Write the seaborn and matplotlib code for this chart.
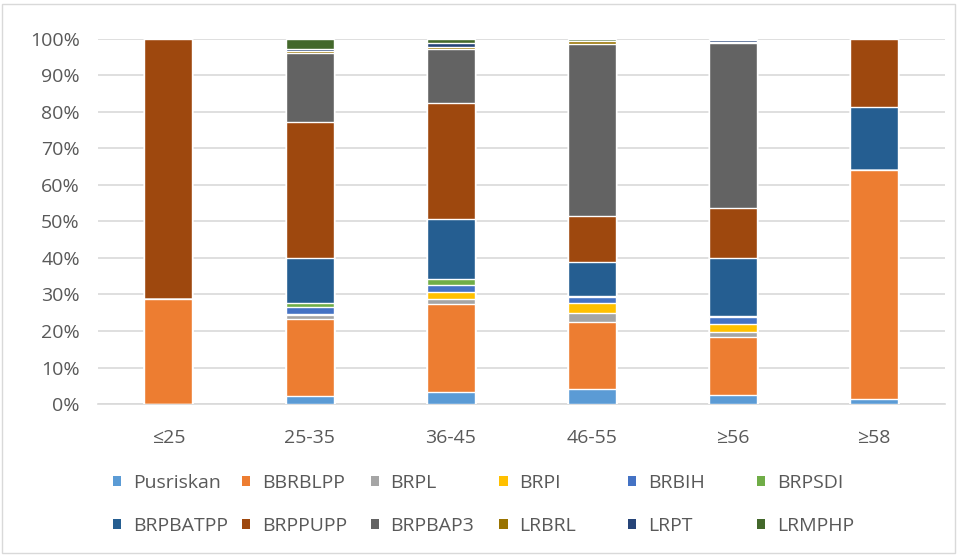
import numpy as np
import pandas as pd
import seaborn as sns
import matplotlib.pyplot as plt
from matplotlib.patches import Rectangle, Patch

# Age groups and share (%) of each unit in each group
groups = ['≤25', '25-35', '36-45', '46-55', '≥56', '≥58']
units = ['Pusriskan', 'BBRBLPP', 'BRPL', 'BRPI', 'BRBIH', 'BRPSDI',
         'BRPBATPP', 'BRPPUPP', 'BRPBAP3', 'LRBRL', 'LRPT', 'LRMPHP']

pusriskan = [0.0, 2.1, 3.4, 4.1, 2.5, 1.4]
bbrblpp = [28.7, 21.1, 23.9, 18.5, 15.8, 62.8]
brpl = [0.0, 1.1, 1.3, 2.3, 1.6, 0.0]
brpi = [0.0, 0.3, 2.0, 2.7, 2.0, 0.0]
brbih = [0.0, 2.0, 1.9, 1.7, 2.0, 0.0]
brpsdi = [0.0, 1.0, 1.7, 0.4, 0.2, 0.0]
brpbatpp = [0.0, 12.5, 16.4, 9.1, 16.1, 17.1]
brppupp = [71.3, 37.3, 31.7, 12.7, 13.7, 18.7]
brpbap3 = [0.0, 18.7, 14.7, 47.1, 45.2, 0.0]
lrbrl = [0.0, 0.7, 0.6, 0.7, 0.1, 0.0]
lrpt = [0.0, 0.6, 1.1, 0.2, 0.7, 0.0]
lrmphp = [0.0, 2.7, 1.2, 0.5, 0.3, 0.0]

colors = ['#5B9BD5', '#ED7D31', '#A5A5A5', '#FFC000', '#4472C4', '#70AD47',
          '#255E91', '#9E480E', '#636363', '#997300', '#264478', '#43682B']

df = pd.DataFrame([pusriskan, bbrblpp, brpl, brpi, brbih, brpsdi, brpbatpp,
                   brppupp, brpbap3, lrbrl, lrpt, lrmphp], index=units, columns=groups).T
# normalise each group to 100%
df = df.div(df.sum(axis=1), axis=0) * 100
cum = df.cumsum(axis=1)

sns.set_style('white')
plt.rcParams['font.family'] = ['Open Sans', 'DejaVu Sans']

fig = plt.figure(figsize=(9.59, 5.55), dpi=100)
ax = fig.add_axes([0.102, 0.272, 0.883, 0.658])

# Draw cumulative tops from the last unit down so each layer shows as a stacked segment
for unit, col in reversed(list(zip(units, colors))):
    data = pd.DataFrame({'group': groups, 'top': cum[unit].values})
    sns.barplot(data=data, x='group', y='top', color=col, width=0.34,
                saturation=1, ax=ax, zorder=3)

ax.set_ylim(0, 100)
ax.set_xlim(-0.5, 5.5)
ax.set_yticks(np.arange(0, 101, 10))
ax.set_yticklabels([f'{v}%' for v in range(0, 101, 10)])
ax.yaxis.grid(True, color='#d9d9d9', linewidth=1.2, zorder=0)
ax.set_axisbelow(True)
for s in ['top', 'right', 'left']:
    ax.spines[s].set_visible(False)
ax.spines['bottom'].set_color('#d9d9d9')
ax.spines['bottom'].set_linewidth(1.2)
ax.set_xlabel('')
ax.set_ylabel('')
ax.tick_params(axis='both', length=0, labelsize=14, colors='#595959')
ax.tick_params(axis='y', pad=13)
ax.tick_params(axis='x', pad=18)

# legend: 2 rows x 6 evenly spaced columns
for i, (unit, col) in enumerate(zip(units, colors)):
    row, c = divmod(i, 6)
    x = (113 + 128.8 * c) / 959
    y = 0.130 if row == 0 else 0.053
    fig.legend([Patch(facecolor=col, edgecolor='none')], [unit], loc='center left',
               bbox_to_anchor=(x, y), frameon=False, borderpad=0, borderaxespad=0,
               fontsize=14, labelcolor='#595959', handlelength=0.42,
               handleheight=0.42, handletextpad=0.6)

fig.add_artist(Rectangle((0.002, 0.003), 0.994, 0.99, transform=fig.transFigure,
                         fill=False, edgecolor='#d9d9d9', linewidth=1))

fig.savefig('out.png', dpi=100)
